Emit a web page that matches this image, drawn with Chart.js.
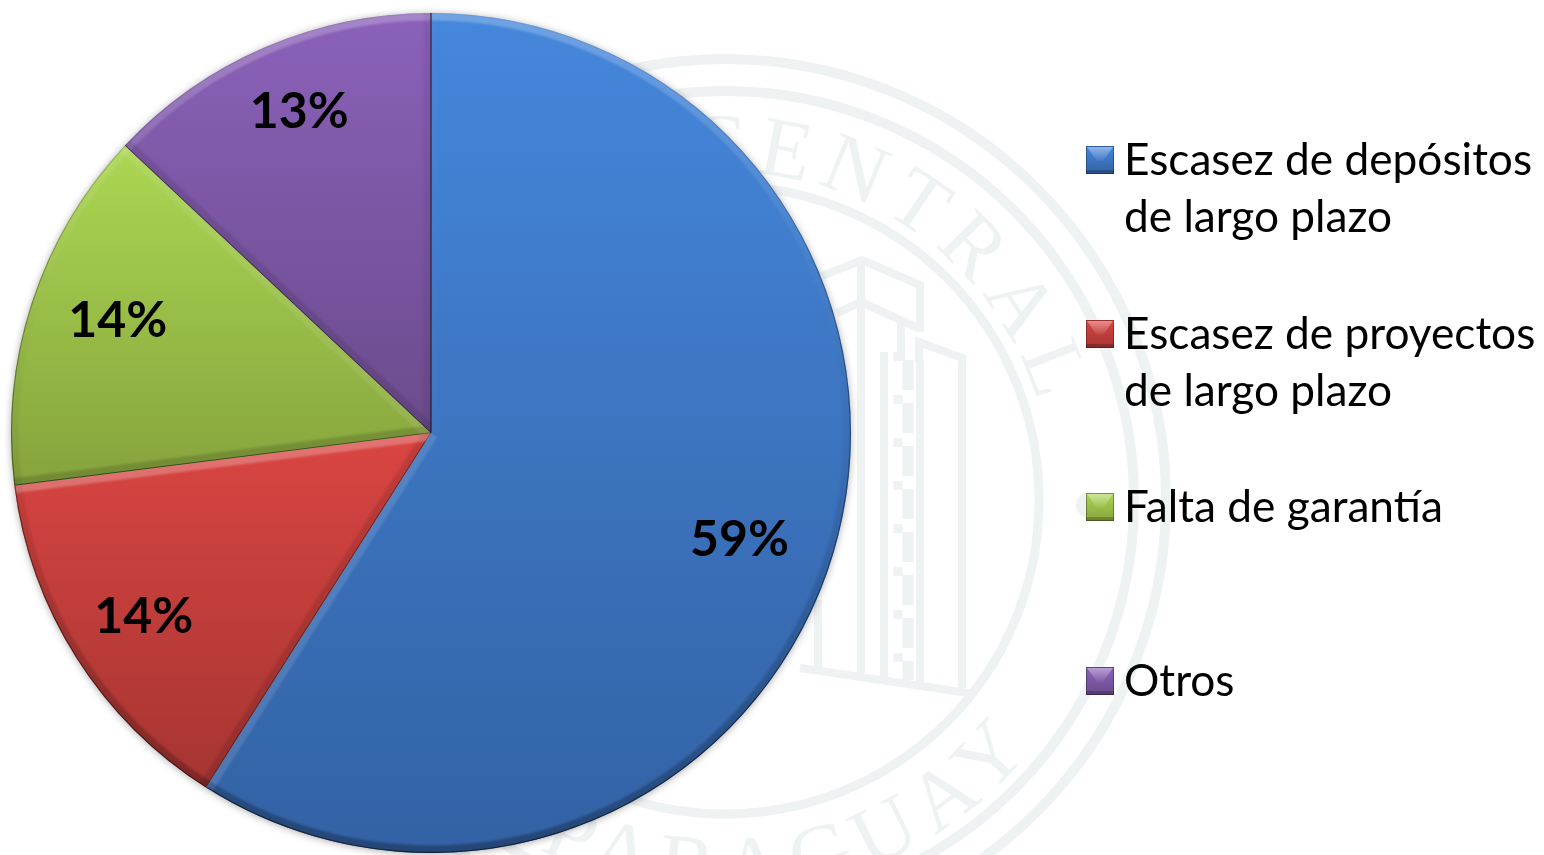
<!DOCTYPE html>
<html lang="es">
<head>
<meta charset="utf-8">
<title>Restricciones al crédito de largo plazo</title>
<script src="https://cdn.jsdelivr.net/npm/chart.js@4"></script>
<style>
html,body{margin:0;padding:0;background:#fff;width:1544px;height:855px;overflow:hidden}
#wm{position:absolute;left:0;top:0}
#c{position:absolute;left:0;top:0}
</style>
</head>
<body>
<svg id="wm" width="1544" height="855" viewBox="0 0 1544 855" fill="none" stroke="#eef2f2">
  <defs>
    <path id="topArc" d="M 397 500 A 328 328 0 0 1 1053 500"/>
    <path id="botArc" d="M 330 500 A 395 395 0 0 0 1120 500"/>
  </defs>
  <circle cx="725" cy="500" r="441" stroke-width="10"/>
  <circle cx="725" cy="500" r="409" stroke-width="10"/>
  <circle cx="725" cy="500" r="314" stroke-width="9"/>
  <g stroke-width="8">
    <path d="M822 276 L862 260 L920 285 L920 332"/>
    <path d="M861 260 L861 673"/>
    <path d="M837 313 L861 302 L920 329"/>
    <path d="M901 322 L901 360"/>
    <path d="M919 362 L919 342 L962 358 L962 688"/>
    <path d="M800 668 L975 694"/>
    <path d="M818 600 L818 672"/>
    <path d="M920 360 L920 686"/>
  </g>
  <path d="M884 352 L884 680" stroke-width="8"/>
  <path d="M898 352 L898 680" stroke-width="9" stroke-dasharray="9 34"/>
  <path d="M908 352 L908 680" stroke-width="11" stroke-dasharray="30 13" stroke-dashoffset="-8"/>
  <circle cx="1089" cy="505" r="13" fill="#eef2f2" stroke="none"/>
  <g font-family="'Liberation Serif',serif" fill="#eef2f2" stroke="none">
    <text font-size="85" letter-spacing="10" text-anchor="middle" transform="rotate(34 725 500)">
      <textPath href="#topArc" startOffset="50%">CENTRAL</textPath>
    </text>
    <text font-size="85" letter-spacing="12" text-anchor="middle" transform="rotate(-12 725 500)">
      <textPath href="#botArc" startOffset="50%">PARAGUAY</textPath>
    </text>
  </g>
</svg>
<canvas id="c" width="1544" height="855"></canvas>
<script>
const categories = [
  ["Escasez de depósitos", "de largo plazo"],
  ["Escasez de proyectos", "de largo plazo"],
  ["Falta de garantía"],
  ["Otros"]
];
const shares = [59, 14, 14, 13];
const tickLabels = ["59%", "14%", "14%", "13%"];
const topColors = ["#4587DC", "#DA4542", "#ABD752", "#8B61BA"];
const bottomColors = ["#3362A4", "#A53532", "#86A33D", "#6B4B8C"];

const LABEL_FONT = "700 50px Lato, sans-serif";
const LEGEND_FONT = "44.2px Lato, sans-serif";
const labelPlace = [{r:0.776,a:2.6},{r:0.81,a:0},{r:0.793,a:1.9},{r:0.83,a:1.2}];
const legendRows = [146, 320, 493, 667];
const lightDir = {x:-0.2, y:-0.98};

function sliceBox(i, area){
  const cx=(area.left+area.right)/2, cy=(area.top+area.bottom)/2, R=(area.right-area.left)/2;
  const total=shares.reduce((a,b)=>a+b,0);
  let before=0; for(let k=0;k<i;k++) before+=shares[k];
  const a0=before/total*2*Math.PI-Math.PI/2, a1=(before+shares[i])/total*2*Math.PI-Math.PI/2;
  const ys=[cy,cy+R*Math.sin(a0),cy+R*Math.sin(a1)];
  for(const q of [-Math.PI/2,Math.PI/2,3*Math.PI/2]) if(q>a0&&q<a1) ys.push(cy+R*Math.sin(q));
  return {top:Math.min(...ys),bottom:Math.max(...ys)};
}
function sliceFill(ctx){
  const chart=ctx.chart, i=ctx.dataIndex, area=chart.chartArea;
  if(!area) return topColors[i];
  const b=sliceBox(i,area);
  const g=chart.ctx.createLinearGradient(0,b.top,0,b.bottom);
  g.addColorStop(0,topColors[i]); g.addColorStop(1,bottomColors[i]);
  return g;
}
const pieShadow={
  id:'pieShadow',
  beforeDatasetsDraw(chart){
    const el=chart.getDatasetMeta(0).data[0], c=chart.ctx;
    c.save(); c.shadowColor='rgba(0,0,0,.4)'; c.shadowBlur=9; c.shadowOffsetX=0; c.shadowOffsetY=1;
    c.fillStyle='#888'; c.beginPath(); c.arc(el.x,el.y,el.outerRadius-1,0,2*Math.PI); c.fill(); c.restore();
  }
};
const bevel={
  id:'bevel',
  afterDatasetsDraw(chart){
    const c=chart.ctx;
    chart.getDatasetMeta(0).data.forEach(el=>{
      const {x,y,startAngle:s,endAngle:e,outerRadius:R}=el;
      c.save();
      c.beginPath(); c.moveTo(x,y); c.arc(x,y,R,s,e); c.closePath(); c.clip();
      const g=c.createLinearGradient(0,y-R,0,y+R);
      g.addColorStop(0,'rgba(255,255,255,.24)');
      g.addColorStop(.25,'rgba(255,255,255,.06)');
      g.addColorStop(.5,'rgba(0,0,0,.04)');
      g.addColorStop(1,'rgba(0,0,0,.28)');
      c.save(); c.filter='blur(1px)'; c.strokeStyle=g; c.lineWidth=15;
      c.beginPath(); c.arc(x,y,R,s,e); c.stroke(); c.restore();
      [[s,1],[e,-1]].forEach(([a,side])=>{
        const ox=side*Math.sin(a), oy=-side*Math.cos(a);
        const u=ox*lightDir.x+oy*lightDir.y;
        c.save(); c.filter='blur(.8px)';
        c.strokeStyle=u>0?`rgba(255,255,255,${(.25*u*u).toFixed(3)})`:`rgba(0,0,0,${(.12*-u+.03).toFixed(3)})`;
        c.lineWidth=15;
        c.beginPath(); c.moveTo(x,y); c.lineTo(x+R*Math.cos(a),y+R*Math.sin(a)); c.stroke(); c.restore();
        if(u<=0.5){
          c.strokeStyle='rgba(0,0,0,.5)'; c.lineWidth=1.6;
          c.beginPath(); c.moveTo(x,y); c.lineTo(x+R*Math.cos(a),y+R*Math.sin(a)); c.stroke();
        }
      });
      const g2=c.createLinearGradient(0,y-R,0,y+R);
      g2.addColorStop(0,'rgba(0,0,0,.05)'); g2.addColorStop(.45,'rgba(0,0,0,.35)'); g2.addColorStop(1,'rgba(0,0,0,.55)');
      c.strokeStyle=g2; c.lineWidth=2.4; c.beginPath(); c.arc(x,y,R,s,e); c.stroke();
      c.restore();
    });
  }
};
const sliceLabels={
  id:'sliceLabels',
  afterDatasetsDraw(chart){
    const c=chart.ctx;
    c.save(); c.font=LABEL_FONT; c.fillStyle='#000'; c.textAlign='center'; c.textBaseline='middle';
    chart.getDatasetMeta(0).data.forEach((el,i)=>{
      const p=labelPlace[i];
      const m=(el.startAngle+el.endAngle)/2+p.a*Math.PI/180;
      c.fillText(tickLabels[i],el.x+el.outerRadius*p.r*Math.cos(m),el.y+el.outerRadius*p.r*Math.sin(m)+1.5);
    });
    c.restore();
  }
};
const sideLegend={
  id:'sideLegend',
  afterDraw(chart){
    const c=chart.ctx, X=1086, S=28, TX=1124, LH=57;
    categories.forEach((lines,i)=>{
      const Y=legendRows[i];
      const g=c.createLinearGradient(0,Y,0,Y+S);
      g.addColorStop(0,topColors[i]); g.addColorStop(1,bottomColors[i]);
      c.fillStyle=g; c.fillRect(X,Y,S,S);
      const h=c.createLinearGradient(0,Y,0,Y+15);
      h.addColorStop(0,'rgba(255,255,255,.42)'); h.addColorStop(1,'rgba(255,255,255,.04)');
      c.fillStyle=h;
      c.beginPath(); c.moveTo(X+1,Y+1); c.lineTo(X+S-1,Y+1); c.lineTo(X+S/2+3,Y+15); c.lineTo(X+S/2-3,Y+15); c.closePath(); c.fill();
      c.fillStyle='rgba(0,0,0,.2)'; c.fillRect(X,Y+S-4,S,4);
      c.strokeStyle='rgba(0,0,0,.3)'; c.lineWidth=1; c.strokeRect(X+.5,Y+.5,S-1,S-1);
      c.font=LEGEND_FONT; c.fillStyle='#000'; c.textAlign='left'; c.textBaseline='alphabetic';
      lines.forEach((t,k)=>c.fillText(t,TX,Y+29+k*LH));
    });
  }
};
new Chart(document.getElementById('c'),{
  type:'pie',
  data:{labels:categories.map(l=>l.join(' ')),datasets:[{data:shares,backgroundColor:sliceFill,borderWidth:0}]},
  options:{
    responsive:false,animation:false,
    layout:{padding:{left:11,top:13,right:693,bottom:2}},
    plugins:{legend:{display:false},tooltip:{enabled:false},title:{display:false}}
  },
  plugins:[pieShadow,bevel,sliceLabels,sideLegend]
});
</script>
</body>
</html>
